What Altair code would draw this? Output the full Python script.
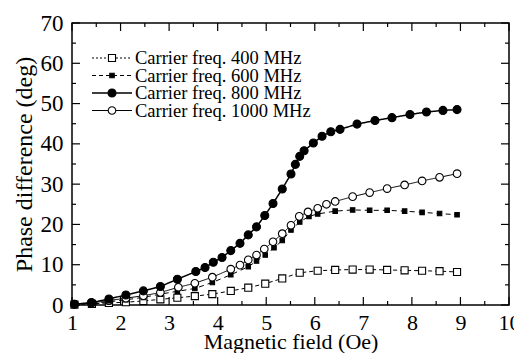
import altair as alt
import pandas as pd

# ---- data ----
x_400 = [1.05, 1.41, 1.76, 2.11, 2.47, 2.82, 3.17, 3.53, 3.89, 4.27, 4.63, 4.98, 5.33, 5.69, 6.06, 6.42, 6.78, 7.13, 7.49, 7.85, 8.21, 8.57, 8.93]
y_400 = [0.1, 0.3, 0.5, 0.7, 1.0, 1.4, 1.8, 2.2, 2.7, 3.5, 4.3, 5.3, 6.6, 8.0, 8.5, 8.7, 8.8, 8.8, 8.7, 8.6, 8.5, 8.4, 8.2]

x_600 = [1.05, 1.41, 1.76, 2.11, 2.47, 2.82, 3.17, 3.53, 3.89, 4.27, 4.63, 4.80, 4.98, 5.16, 5.33, 5.51, 5.69, 5.88, 6.06, 6.42, 6.78, 7.13, 7.49, 7.85, 8.21, 8.57, 8.93]
y_600 = [0.2, 0.4, 0.8, 1.3, 1.9, 2.7, 3.4, 4.1, 5.6, 7.5, 9.5, 10.9, 12.4, 14.2, 16.0, 18.6, 20.6, 22.0, 22.6, 23.3, 23.6, 23.5, 23.5, 23.3, 23.0, 22.7, 22.4]

x_800 = [1.05, 1.40, 1.76, 2.11, 2.47, 2.82, 3.17, 3.55, 3.74, 3.91, 4.09, 4.27, 4.46, 4.63, 4.80, 4.97, 5.14, 5.33, 5.51, 5.60, 5.69, 5.78, 5.97, 6.15, 6.33, 6.52, 6.87, 7.24, 7.59, 7.96, 8.30, 8.64, 8.93]
y_800 = [0.2, 0.6, 1.5, 2.5, 3.5, 4.6, 6.4, 8.3, 9.3, 10.6, 11.8, 13.5, 15.3, 17.4, 19.4, 22.2, 25.2, 28.8, 32.5, 34.9, 36.9, 38.3, 40.2, 41.9, 43.0, 43.6, 44.9, 45.8, 46.5, 47.3, 47.9, 48.3, 48.5]

x_1000 = [1.05, 1.40, 1.76, 2.11, 2.47, 2.82, 3.19, 3.53, 3.89, 4.27, 4.46, 4.63, 4.80, 4.96, 5.14, 5.33, 5.51, 5.68, 5.86, 6.06, 6.24, 6.42, 6.78, 7.13, 7.49, 7.85, 8.21, 8.57, 8.93]
y_1000 = [0.2, 0.5, 1.1, 1.7, 2.3, 3.1, 4.4, 5.4, 6.9, 8.9, 9.9, 11.2, 12.4, 13.9, 15.7, 17.7, 19.8, 22.0, 23.1, 24.0, 25.0, 25.7, 26.9, 27.9, 28.9, 29.8, 30.8, 31.7, 32.6]

labels = ["Carrier freq. 400 MHz", "Carrier freq. 600 MHz",
          "Carrier freq. 800 MHz", "Carrier freq. 1000 MHz"]

x_ticks_major = [1, 2, 3, 4, 5, 6, 7, 8, 9, 10]
x_ticks_minor = [1.5, 2.5, 3.5, 4.5, 5.5, 6.5, 7.5, 8.5, 9.5]
y_ticks_major = [0, 10, 20, 30, 40, 50, 60, 70]
y_ticks_minor = [5, 15, 25, 35, 45, 55, 65]

W, H = 437, 282
FONT = "Liberation Serif"

xs = alt.Scale(domain=[1, 10], nice=False, zero=False)
ys = alt.Scale(domain=[0, 70], nice=False)

styles = [
    (x_400, y_400, labels[0], "square", 50, "white", [4, 3], 1.0),
    (x_600, y_600, labels[1], "square", 20, "black", [5, 4], 1.0),
    (x_1000, y_1000, labels[3], "circle", 58, "white", [1, 0], 1.0),
    (x_800, y_800, labels[2], "circle", 64, "black", [1, 0], 1.5),
]

layers = []
base_axes = alt.Chart(pd.DataFrame({"x": [1.0], "y": [0.0]})).mark_point(opacity=0).encode(
    x=alt.X("x:Q", scale=xs,
            axis=alt.Axis(values=x_ticks_major, title="Magnetic field (Oe)", ticks=False, domain=False,
                          grid=False, labelFont=FONT, labelFontSize=22, labelColor="black",
                          labelPadding=7, titleFont=FONT, titleFontSize=22, titleFontWeight="normal",
                          titleColor="black", titlePadding=-2,
                          format="d", labelFlush=False)),
    y=alt.Y("y:Q", scale=ys,
            axis=alt.Axis(values=y_ticks_major, title="Phase difference (deg)", ticks=False, domain=False,
                          grid=False, labelFont=FONT, labelFontSize=23, labelColor="black",
                          labelPadding=9, titleFont=FONT, titleFontSize=24, titleFontWeight="normal",
                          titleColor="black", titlePadding=4, format="d", labelFlush=False)),
)
layers.append(base_axes)


def xticks(vals, length):
    df = pd.DataFrame({"v": vals})
    bot = alt.Chart(df).mark_rule(color="black", strokeWidth=1.2).encode(
        x=alt.X("v:Q", scale=xs), y=alt.value(H), y2=alt.value(H - length))
    top = alt.Chart(df).mark_rule(color="black", strokeWidth=1.2).encode(
        x=alt.X("v:Q", scale=xs), y=alt.value(0), y2=alt.value(length))
    return [bot, top]


def yticks(vals, length):
    df = pd.DataFrame({"v": vals})
    left = alt.Chart(df).mark_rule(color="black", strokeWidth=1.2).encode(
        y=alt.Y("v:Q", scale=ys), x=alt.value(0), x2=alt.value(length))
    right = alt.Chart(df).mark_rule(color="black", strokeWidth=1.2).encode(
        y=alt.Y("v:Q", scale=ys), x=alt.value(W), x2=alt.value(W - length))
    return [left, right]


layers += xticks(x_ticks_major, 8) + xticks(x_ticks_minor, 4)
layers += yticks(y_ticks_major, 8) + yticks(y_ticks_minor, 4)

for xv, yv, lab, shape, size, fill, dash, lw in styles:
    df = pd.DataFrame({"x": xv, "y": yv})
    line = alt.Chart(df).mark_line(color="black", strokeWidth=lw, strokeDash=dash).encode(
        x=alt.X("x:Q", scale=xs), y=alt.Y("y:Q", scale=ys))
    pts = alt.Chart(df).mark_point(shape=shape, size=size, filled=True, fill=fill,
                                   stroke="black", strokeWidth=1.1, opacity=1).encode(
        x=alt.X("x:Q", scale=xs), y=alt.Y("y:Q", scale=ys))
    layers += [line, pts]

leg = [
    (labels[0], "square", 50, "white", [2, 2]),
    (labels[1], "square", 20, "black", [4, 3]),
    (labels[2], "circle", 64, "black", [1, 0]),
    (labels[3], "circle", 58, "white", [1, 0]),
]
one = pd.DataFrame({"a": [0]})
for i, (lab, shape, size, fill, dash) in enumerate(leg):
    yy = 35 + 17.5 * i
    layers.append(alt.Chart(one).mark_rule(color="black", strokeWidth=1.2 if i != 2 else 1.5,
                                           strokeDash=dash).encode(
        x=alt.value(20), x2=alt.value(60), y=alt.value(yy)))
    layers.append(alt.Chart(one).mark_point(shape=shape, size=size, filled=True, fill=fill,
                                            stroke="black", strokeWidth=1.1, opacity=1).encode(
        x=alt.value(40), y=alt.value(yy)))
    layers.append(alt.Chart(one).mark_text(align="left", baseline="middle", font=FONT,
                                           fontSize=18.5, color="black").encode(
        x=alt.value(63), y=alt.value(yy), text=alt.value(lab)))

chart = alt.layer(*layers).properties(
    width=W, height=H,
    autosize=alt.AutoSizeParams(type="none"),
    padding={"left": 64, "top": 15, "right": 5, "bottom": 48},
    background="white",
).configure_view(stroke="black", strokeWidth=1.5)

chart.save("out.html", embed_options={"renderer": "svg", "actions": False})
